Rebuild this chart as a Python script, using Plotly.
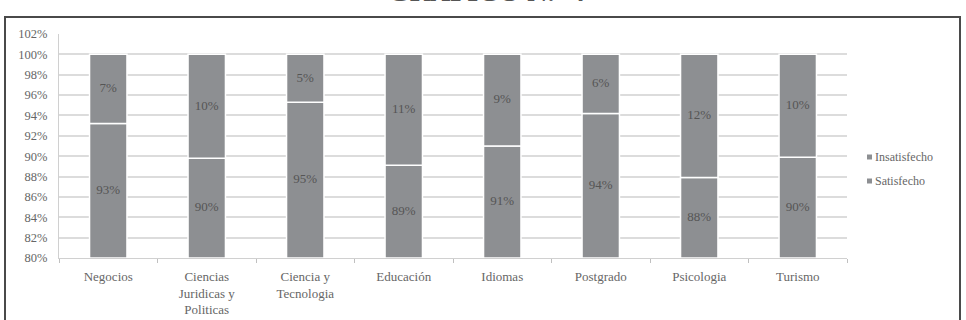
import plotly.graph_objects as go

categories = ["Negocios", "Ciencias<br>Juridicas y<br>Politicas", "Ciencia y<br>Tecnologia",
              "Educación", "Idiomas", "Postgrado", "Psicologia", "Turismo"]
satisfecho = [93.2, 89.8, 95.3, 89.1, 91.0, 94.2, 87.9, 89.9]
insatisfecho = [6.8, 10.2, 4.7, 10.9, 9.0, 5.8, 12.1, 10.1]
sat_labels = ["93%", "90%", "95%", "89%", "91%", "94%", "88%", "90%"]
ins_labels = ["7%", "10%", "5%", "11%", "9%", "6%", "12%", "10%"]
legend_names = ["Insatisfecho", "Satisfecho"]
y_ticks = list(range(80, 103, 2))
y_min, y_max = 80, 102

W, H = 966, 320
L, R, T, B = 59, 119, 34, 62
pw, ph = W - L - R, H - T - B

bar_color = "#8d8f92"
font = "Liberation Serif"
label_color = "#555555"
text_color = "#666666"

fig = go.Figure()
# Satisfecho: drawn from the axis floor up to its value
fig.add_trace(go.Bar(
    x=categories, y=[v - y_min for v in satisfecho], base=y_min, name="Satisfecho",
    marker=dict(color=bar_color, line=dict(color="white", width=1.5)),
    showlegend=False, hoverinfo="skip",
))
# Insatisfecho: stacked on top of Satisfecho
fig.add_trace(go.Bar(
    x=categories, y=insatisfecho, base=satisfecho, name="Insatisfecho",
    marker=dict(color=bar_color, line=dict(color="white", width=1.5)),
    showlegend=False, hoverinfo="skip",
))
# labels centred in the visible part of each segment
fig.add_trace(go.Scatter(
    x=categories, y=[(y_min + s) / 2 for s in satisfecho], mode="text", text=sat_labels,
    textfont=dict(family=font, size=13, color=label_color), showlegend=False, hoverinfo="skip",
))
fig.add_trace(go.Scatter(
    x=categories, y=[s + i / 2 for s, i in zip(satisfecho, insatisfecho)], mode="text",
    text=ins_labels, textfont=dict(family=font, size=13, color=label_color),
    showlegend=False, hoverinfo="skip",
))

def px_x(px):
    return (px - L) / pw

def px_y(py):
    return (H - B - py) / ph

fig.update_layout(
    width=W, height=H, barmode="overlay", bargap=0.62,
    margin=dict(l=L, r=R, t=T, b=B, autoexpand=False),
    paper_bgcolor="white", plot_bgcolor="white",
    font=dict(family=font, size=12, color=text_color),
    showlegend=False,
    xaxis=dict(showgrid=False, showline=True, linecolor="#d0d0d0", linewidth=1,
               ticks="outside", tickson="boundaries", ticklen=4, tickcolor="#c0c0c0",
               ticklabelstandoff=6, automargin=False,
               tickfont=dict(family=font, size=13, color=text_color)),
    yaxis=dict(range=[y_min, y_max], tickvals=y_ticks, ticktext=[f"{v}%" for v in y_ticks],
               showgrid=True, gridcolor="#dcdcdc", gridwidth=1.5, automargin=False,
               showline=True, linecolor="#d0d0d0", linewidth=1, zeroline=False,
               ticks="", ticklabelstandoff=8,
               tickfont=dict(family=font, size=12.5, color=text_color)),
)

# legend (small square markers, as in the reference)
for name, py in zip(legend_names, [157, 181]):
    fig.add_shape(type="rect", xref="paper", yref="paper",
                  x0=px_x(867), x1=px_x(872), y0=px_y(py + 2.5), y1=px_y(py - 2.5),
                  fillcolor=bar_color, line=dict(width=0))
    fig.add_annotation(
        text=name, xref="paper", yref="paper", x=px_x(873), y=px_y(py),
        xanchor="left", yanchor="middle", showarrow=False,
        font=dict(family=font, size=12, color=text_color))

# outer chart border
fig.add_shape(type="rect", xref="paper", yref="paper",
              x0=px_x(5), x1=px_x(960), y0=px_y(330), y1=px_y(17),
              line=dict(color="#4a4a4a", width=2), fillcolor="rgba(0,0,0,0)", layer="above")

# partially visible title above the box
fig.add_annotation(text="<b>GRÁFICO N.º 4</b>", xref="paper", yref="paper",
                   x=px_x(487), y=px_y(9.5), xanchor="center", yanchor="bottom",
                   showarrow=False, font=dict(family=font, size=28, color="#555555"))

fig.write_html("out.html")
